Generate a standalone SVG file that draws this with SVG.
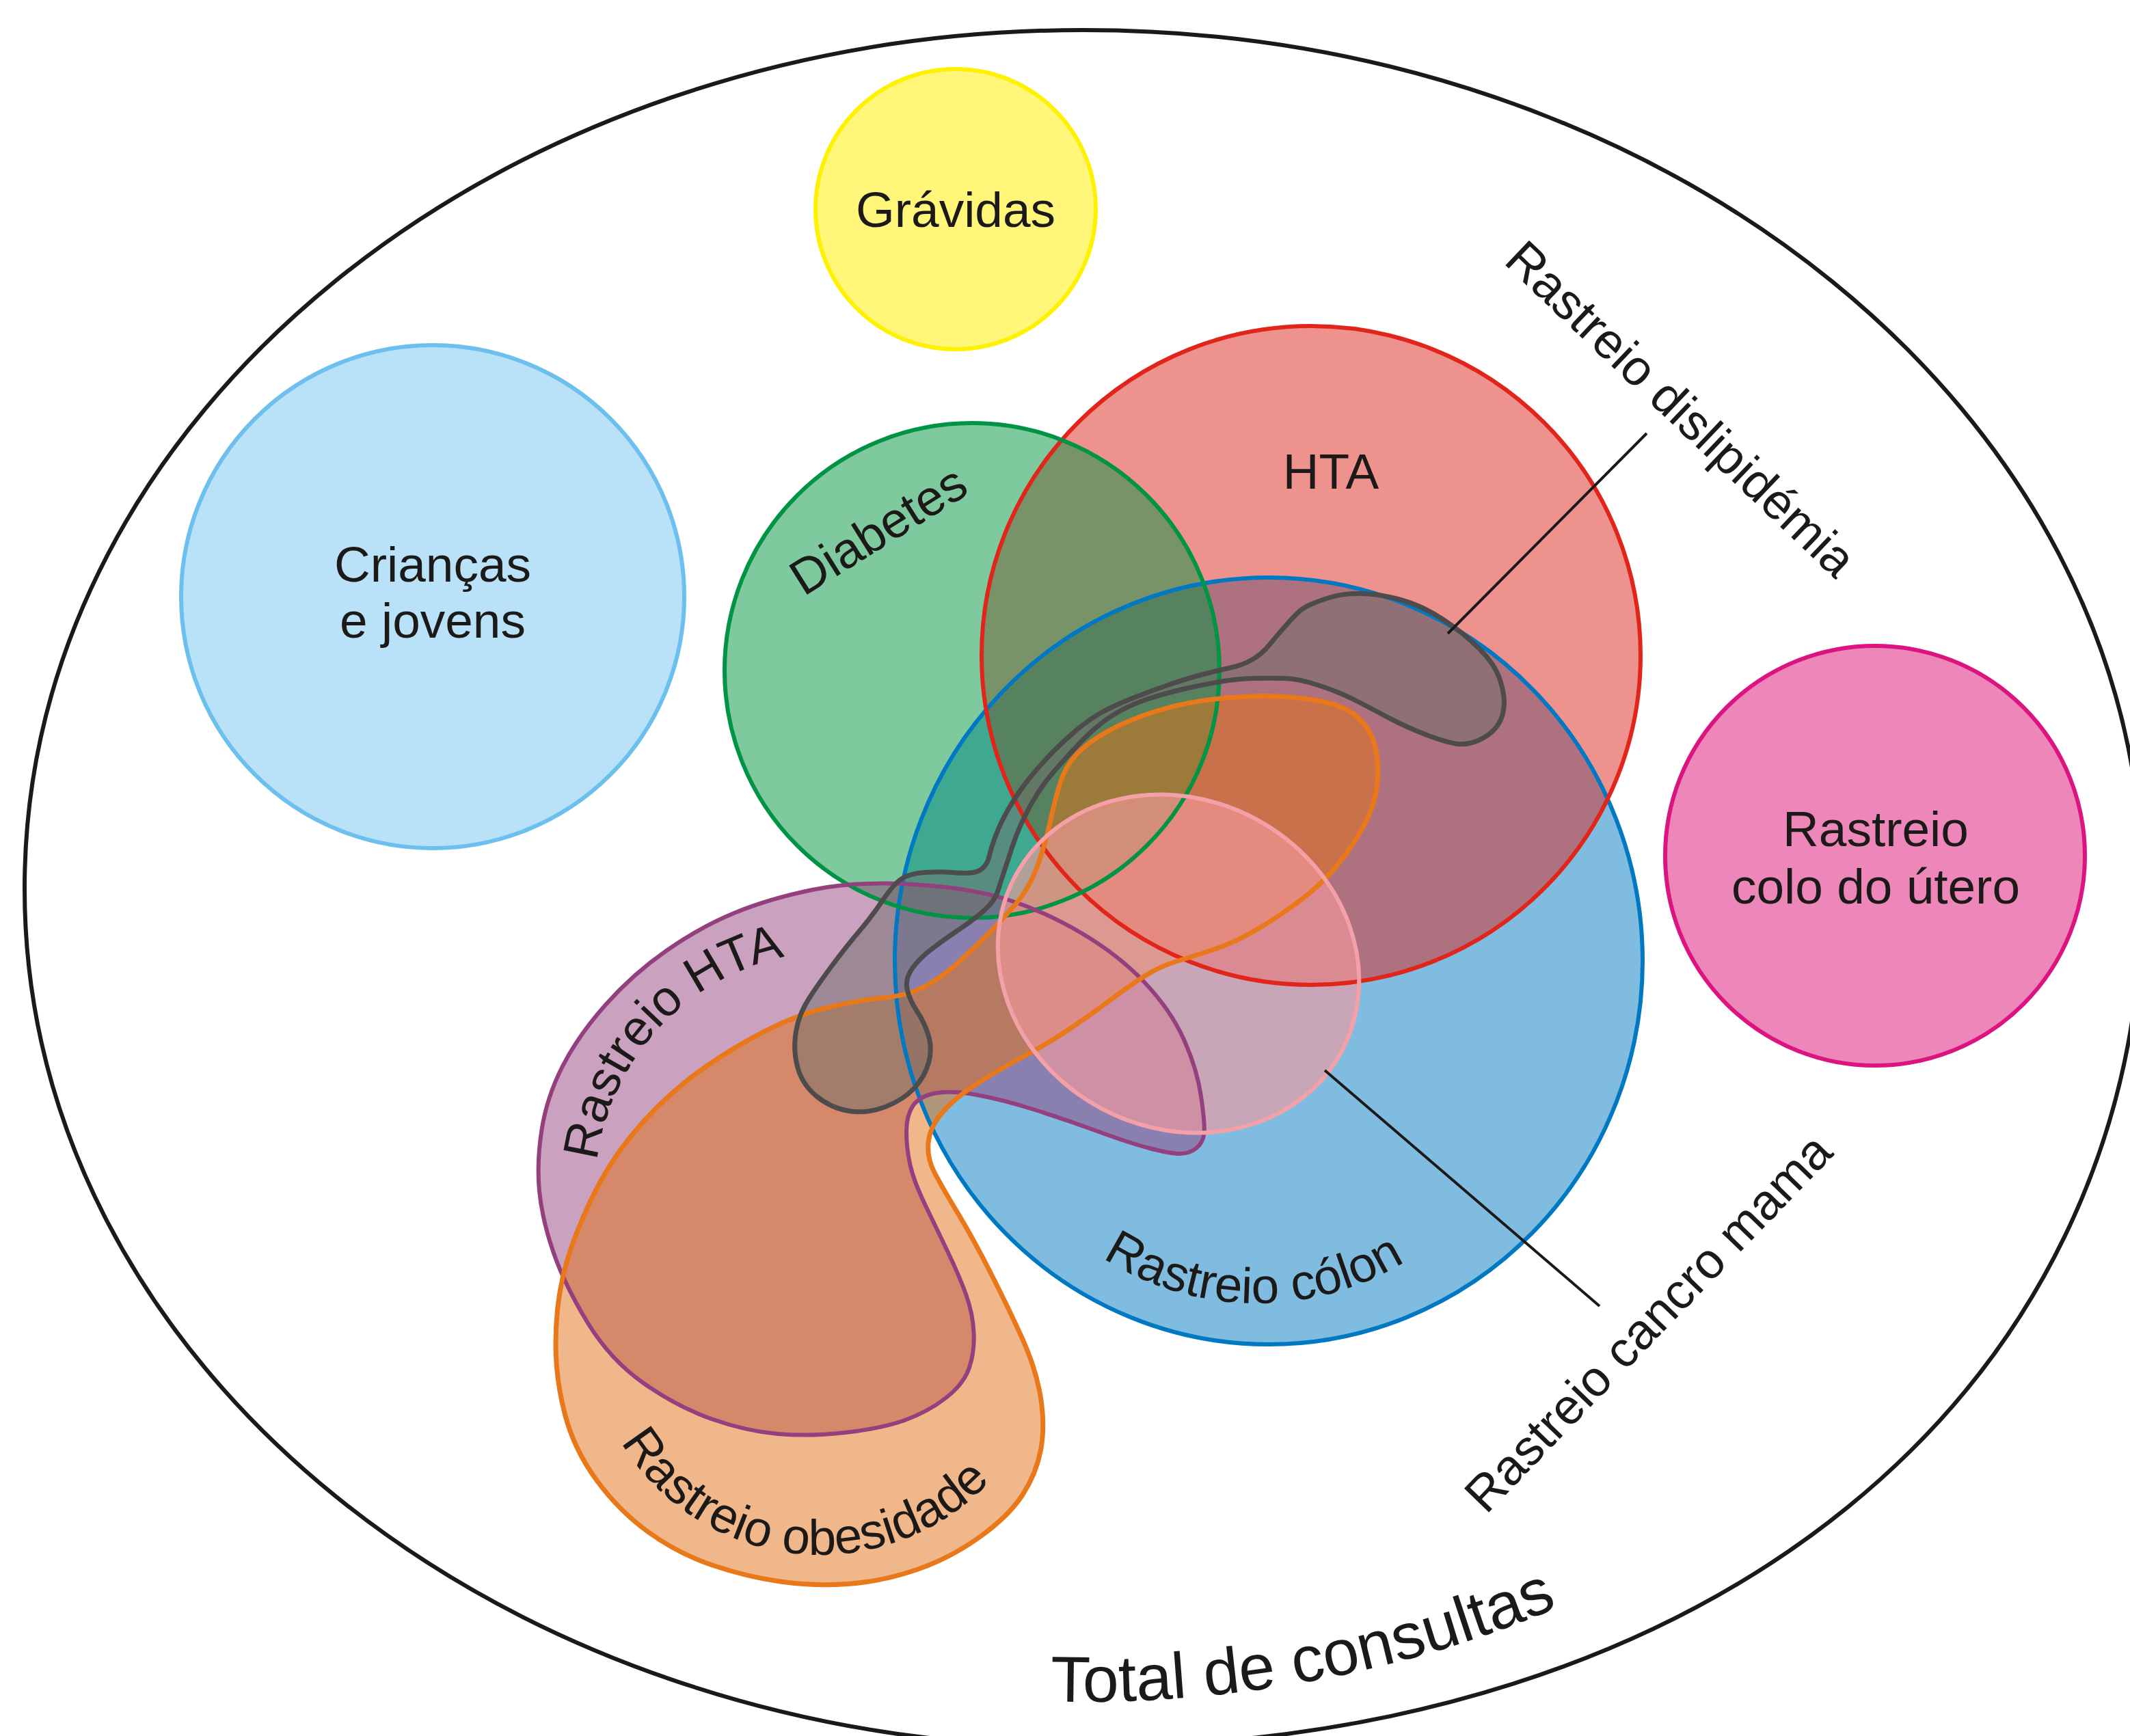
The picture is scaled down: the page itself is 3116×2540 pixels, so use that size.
<svg xmlns="http://www.w3.org/2000/svg" width="3116" height="2540" viewBox="0 0 3116 2540">
<style>
  text { font-family: "Liberation Sans", Arial, Helvetica, sans-serif; font-size: 73px; fill: #1c1a19; }
  .total { font-size: 95px; }
  .ol { fill: none; stroke-linejoin: round; }
  .leader { stroke: #1c1a19; stroke-width: 4; fill: none; }
</style>
<defs>
  <path id="s-outer" d="M1585,44 C2440.5,44 3134,606.3 3134,1300 C3134,2041 2499,2556 1585,2556 C729.5,2556 36,1993.7 36,1300 C36,606.3 729.5,44 1585,44 Z"/>
  <circle id="s-gravidas" cx="1398" cy="306" r="205"/>
  <circle id="s-criancas" cx="633" cy="873" r="368"/>
  <circle id="s-diabetes" cx="1422" cy="981" r="362"/>
  <circle id="s-hta" cx="1918" cy="959" r="482"/>
  <ellipse id="s-colon" cx="1856" cy="1406" rx="547" ry="561"/>
  <circle id="s-utero" cx="2743" cy="1252" r="307"/>
  <ellipse id="s-mama" cx="1724" cy="1410" rx="271" ry="240" transform="rotate(28.5 1724 1410)"/>
  <path id="s-rhta" d="M1188,1302 Q1251,1289 1336,1294 Q1421,1299 1475,1316.5 Q1529,1334 1582.5,1365.5 Q1636,1397 1674,1437 Q1712,1477 1731.5,1520 Q1751,1563 1757,1604 Q1763,1645 1761.5,1658.5 Q1760,1672 1750,1680 Q1740,1688 1726,1688 Q1712,1688 1681.5,1680 Q1651,1672 1605,1655 Q1559,1638 1513,1623.5 Q1467,1609 1429,1602 Q1391,1595 1368,1599.5 Q1345,1604 1335.5,1618 Q1326,1632 1326,1656 Q1326,1680 1331.5,1704.5 Q1337,1729 1353.5,1763 Q1370,1797 1386.5,1831.5 Q1403,1866 1413,1893.5 Q1423,1921 1424.5,1949 Q1426,1977 1418,2001 Q1410,2025 1383.5,2045.5 Q1357,2066 1323.5,2078 Q1290,2090 1237,2096 Q1184,2102 1138,2098 Q1092,2094 1042,2076.5 Q992,2059 942.5,2024.5 Q893,1990 859.5,1935 Q826,1880 809.5,1832 Q793,1784 789,1742.5 Q785,1701 792.5,1653 Q800,1605 823,1560 Q846,1515 886,1470 Q926,1425 975.5,1390.5 Q1025,1356 1075,1335.5 Q1125,1315 1188,1302 Z"/>
  <path id="s-obes" d="M1785,1022 Q1835,1017 1873,1019 Q1911,1021 1941.5,1028 Q1972,1035 1989.5,1052.5 Q2007,1070 2012.5,1095.5 Q2018,1121 2014.5,1150 Q2011,1179 1995.5,1207.5 Q1980,1236 1957,1265 Q1934,1294 1899.5,1319.5 Q1865,1345 1834.5,1362.5 Q1804,1380 1773.5,1390 Q1743,1400 1720,1407 Q1697,1414 1674,1428.5 Q1651,1443 1620.5,1466 Q1590,1489 1559.5,1509 Q1529,1529 1492.5,1548.5 Q1456,1568 1425.5,1588 Q1395,1608 1377.5,1629 Q1360,1650 1358,1672 Q1356,1694 1366.5,1714.5 Q1377,1735 1400,1773 Q1423,1811 1449.5,1863 Q1476,1915 1496,1959.5 Q1516,2004 1522.5,2045.5 Q1529,2087 1522.5,2121.5 Q1516,2156 1496,2187 Q1476,2218 1433,2249 Q1390,2280 1340,2297 Q1290,2314 1240.5,2317.5 Q1191,2321 1141.5,2314 Q1092,2307 1042,2290 Q992,2273 949,2242 Q906,2211 873,2166 Q840,2121 826.5,2069.5 Q813,2018 813,1966.5 Q813,1915 823,1870 Q833,1825 859.5,1766.5 Q886,1708 922.5,1663 Q959,1618 1002,1583.5 Q1045,1549 1101.5,1518 Q1158,1487 1207.5,1475 Q1257,1463 1292,1460 Q1327,1457 1351.5,1444 Q1376,1431 1398.5,1411 Q1421,1391 1444,1368 Q1467,1345 1486.5,1322 Q1506,1299 1517.5,1267.5 Q1529,1236 1536.5,1201.5 Q1544,1167 1551.5,1144 Q1559,1121 1574.5,1104 Q1590,1087 1620.5,1070 Q1651,1053 1693,1040 Q1735,1027 1785,1022 Z"/>
  <path id="s-disl" d="M1916,885 Q1927,880 1946,874 Q1965,868 1991.5,868.5 Q2018,869 2049,877.5 Q2080,886 2110.5,906 Q2141,926 2164,949 Q2187,972 2194.5,995 Q2202,1018 2200,1035.5 Q2198,1053 2188.5,1064.5 Q2179,1076 2163.5,1083 Q2148,1090 2133,1088.5 Q2118,1087 2087.5,1075.5 Q2057,1064 2030,1049.5 Q2003,1035 1981.5,1024 Q1960,1013 1930,1003 Q1900,993 1878.5,992.5 Q1857,992 1834,992.5 Q1811,993 1784,997.5 Q1757,1002 1730,1008.5 Q1703,1015 1680,1022.5 Q1657,1030 1639,1040 Q1621,1050 1607,1061.5 Q1593,1073 1577,1090 Q1561,1107 1545,1125 Q1529,1143 1516.5,1163 Q1504,1183 1495,1203 Q1486,1223 1480.5,1240 Q1475,1257 1469.5,1273.5 Q1464,1290 1460.5,1301.5 Q1457,1313 1450,1321.5 Q1443,1330 1430.5,1340 Q1418,1350 1401.5,1361 Q1385,1372 1365,1387 Q1345,1402 1334.5,1417 Q1324,1432 1327,1447 Q1330,1462 1341.5,1479.5 Q1353,1497 1358.5,1516 Q1364,1535 1358.5,1555 Q1353,1575 1337.5,1592 Q1322,1609 1295,1619.5 Q1268,1630 1241.5,1625.5 Q1215,1621 1194,1603.5 Q1173,1586 1166.5,1560.5 Q1160,1535 1164.5,1509 Q1169,1483 1184,1460 Q1199,1437 1218.5,1411 Q1238,1385 1257,1362.5 Q1276,1340 1291.5,1317 Q1307,1294 1318.5,1286 Q1330,1278 1353,1276.5 Q1376,1275 1393,1276.5 Q1410,1278 1421,1277 Q1432,1276 1438.5,1269.5 Q1445,1263 1447.5,1251.5 Q1450,1240 1457,1221.5 Q1464,1203 1476.5,1181.5 Q1489,1160 1505,1140 Q1521,1120 1539,1101.5 Q1557,1083 1575,1068 Q1593,1053 1610.5,1043 Q1628,1033 1657,1021.5 Q1686,1010 1712.5,1001 Q1739,992 1762.5,986 Q1786,980 1802,976.5 Q1818,973 1832,965 Q1846,957 1857,943.5 Q1868,930 1879,917.5 Q1890,905 1897.5,897.5 Q1905,890 1916,885 Z"/>
  <path id="tp-total" d="M1450,2485 A1483 1190 0 0 0 2600,2168"/>
  <path id="tp-colon" d="M1613,1840 A415 415 0 0 0 2100,1814.5"/>
  <path id="tp-obes" d="M908.6,2110 A340 340 0 0 0 1478.5,2130"/>
  <path id="tp-rhta" d="M873.6,1698.6 A348 348 0 0 1 1279.4,1398.3"/>
</defs>

<g id="node-total">
  <use href="#s-outer" class="ol" stroke="#1c1a19" stroke-width="6"/>
  <text class="total"><textPath href="#tp-total" startOffset="87">Total de consultas</textPath></text>
</g>

<g id="fills">
  <use href="#s-gravidas" fill="#FFF67A"/>
  <use href="#s-criancas" fill="#B9E1F8"/>
  <use href="#s-utero" fill="#ED87BA"/>
  <use href="#s-colon" fill="#0079C2" fill-opacity="0.5"/>
  <use href="#s-hta" fill="#DD251D" fill-opacity="0.5"/>
  <use href="#s-diabetes" fill="#00933F" fill-opacity="0.5"/>
  <use href="#s-rhta" fill="#95437D" fill-opacity="0.5"/>
  <use href="#s-obes" fill="#E17115" fill-opacity="0.5"/>
  <use href="#s-disl" fill="#6F6F6B" fill-opacity="0.5"/>
  <use href="#s-mama" fill="#F4999F" fill-opacity="0.63"/>
</g>

<g id="node-gravidas">
  <use href="#s-gravidas" class="ol" stroke="#FFF200" stroke-width="6"/>
  <text x="1398" y="332" text-anchor="middle">Grávidas</text>
</g>
<g id="node-criancas">
  <use href="#s-criancas" class="ol" stroke="#6DC0EE" stroke-width="6"/>
  <text x="633" y="851" text-anchor="middle">Crianças</text>
  <text x="633" y="933" text-anchor="middle">e jovens</text>
</g>
<g id="node-utero">
  <use href="#s-utero" class="ol" stroke="#DB1480" stroke-width="6"/>
  <text x="2744" y="1238" text-anchor="middle">Rastreio</text>
  <text x="2744" y="1322" text-anchor="middle">colo do útero</text>
</g>
<g id="node-colon">
  <use href="#s-colon" class="ol" stroke="#0079C2" stroke-width="6"/>
  <text><textPath href="#tp-colon">Rastreio cólon</textPath></text>
</g>
<g id="node-hta">
  <use href="#s-hta" class="ol" stroke="#E1251B" stroke-width="6"/>
  <text x="1947" y="715" text-anchor="middle">HTA</text>
</g>
<g id="node-diabetes">
  <use href="#s-diabetes" class="ol" stroke="#009444" stroke-width="6"/>
  <text transform="translate(1298,797) rotate(-32)" text-anchor="middle">Diabetes</text>
</g>
<g id="node-rastreio-hta">
  <use href="#s-rhta" class="ol" stroke="#94407F" stroke-width="6"/>
  <text><textPath href="#tp-rhta">Rastreio HTA</textPath></text>
</g>
<g id="node-obesidade">
  <use href="#s-obes" class="ol" stroke="#E8781A" stroke-width="7"/>
  <text><textPath href="#tp-obes">Rastreio obesidade</textPath></text>
</g>
<g id="node-dislipidemia">
  <use href="#s-disl" class="ol" stroke="#4D4B4B" stroke-width="7"/>
  <text transform="translate(2198,384) rotate(43.6)">Rastreio dislipidémia</text>
</g>
<g id="node-mama">
  <use href="#s-mama" class="ol" stroke="#F4A0A8" stroke-width="6"/>
  <text transform="translate(2174,2217) rotate(-46)">Rastreio cancro mama</text>
</g>

<g id="connectors">
  <line class="leader" x1="2118" y1="927" x2="2409" y2="634"/>
  <line class="leader" x1="1938" y1="1566" x2="2340" y2="1911"/>
</g>
</svg>
